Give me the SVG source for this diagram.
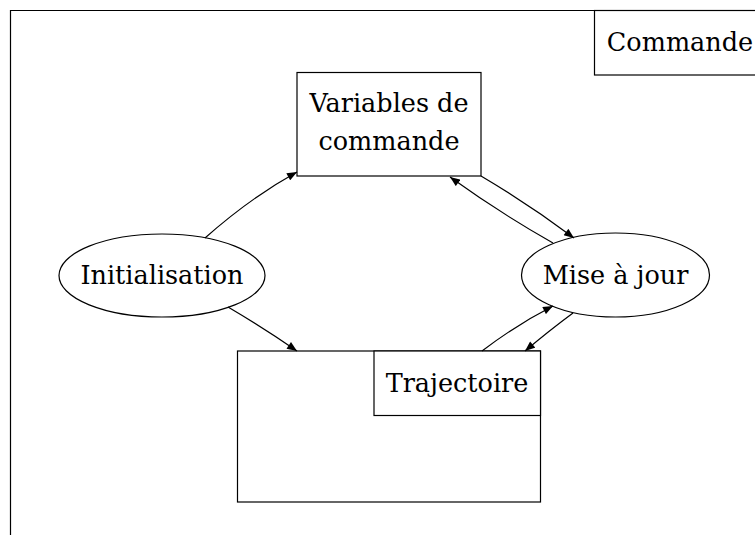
<svg xmlns="http://www.w3.org/2000/svg" width="755" height="535" viewBox="0 0 755 535">
<defs>
<marker id="ah" viewBox="0 0 10 8" refX="10" refY="4" markerWidth="11" markerHeight="8" markerUnits="userSpaceOnUse" orient="auto">
<path d="M0,0 L10,4 L0,8 Z" fill="#000"/>
</marker>
<style>
.s{fill:#fff;stroke:#000;stroke-width:1.2}
.t{font-family:"DejaVu Serif",serif;font-size:25.5px;fill:#000;text-anchor:middle}
.e{fill:none;stroke:#000;stroke-width:1.2;marker-end:url(#ah)}
</style>
</defs>
<rect width="755" height="535" fill="#fff"/>
<g id="cluster-commande">
<path d="M10.5,535 V10.5 H755" fill="none" stroke="#000" stroke-width="1.2"/>
<rect class="s" x="594.5" y="10.5" width="170" height="64.5"/>
<text class="t" x="680" y="51">Commande</text>
</g>
<g id="cluster-trajectoire">
<rect class="s" x="237.5" y="351" width="303" height="151"/>
<rect class="s" x="374" y="351" width="166.5" height="64.5"/>
<text class="t" x="457" y="392">Trajectoire</text>
</g>
<g id="variables">
<rect class="s" x="297" y="72.5" width="184" height="103.5"/>
<text class="t" x="389" y="112">Variables de</text>
<text class="t" x="389" y="150">commande</text>
</g>
<g id="initialisation">
<ellipse class="s" cx="162" cy="275.5" rx="103" ry="41.5"/>
<text class="t" x="162" y="284">Initialisation</text>
</g>
<g id="miseajour">
<ellipse class="s" cx="615.5" cy="275" rx="94" ry="42"/>
<text class="t" x="615.5" y="284">Mise à jour</text>
</g>
<g id="connectors">
<path class="e" d="M205,238 Q250,198 297,172"/>
<path class="e" d="M228,307 Q262,327 297,351"/>
<path class="e" d="M481,176 Q530,205 574,238"/>
<path class="e" d="M553,243 Q500,213 450,177"/>
<path class="e" d="M482,351 Q516,325 553,306"/>
<path class="e" d="M573,313 Q550,330 525,351"/>
</g>
</svg>
